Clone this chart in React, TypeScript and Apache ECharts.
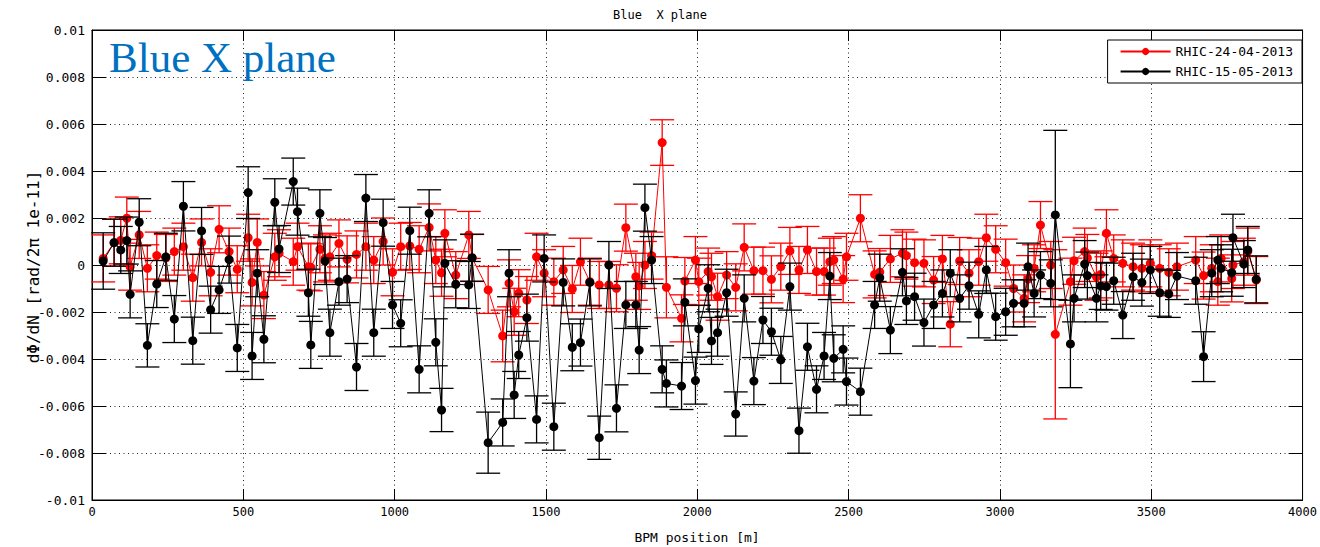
import React, { useEffect, useRef } from "react";
import * as echarts from "echarts";

// BPM positions [m]
const positions = [
  37, 73, 95, 115, 126, 156, 183, 214, 244, 272, 302, 333, 362, 392, 420, 453, 480,
  516, 529, 546, 568, 604, 618, 665, 679, 715, 723, 753, 770, 786, 816, 843, 874, 905, 931, 962, 993,
  1020, 1050, 1081, 1114, 1136, 1155, 1166, 1202, 1245, 1256, 1309, 1357, 1378, 1395, 1410, 1437, 1469, 1494,
  1526, 1557, 1587, 1614, 1645, 1676, 1708, 1733, 1764, 1797, 1808, 1827, 1849, 1884, 1898, 1948, 1959, 1994, 2005,
  2036, 2047, 2067, 2097, 2127, 2155, 2187, 2217, 2245, 2276, 2306, 2336, 2364, 2394, 2419, 2438, 2451, 2482, 2493, 2539,
  2586, 2603, 2638, 2678, 2691, 2718, 2749, 2781, 2810, 2836, 2867, 2898, 2930, 2955, 2986, 3019, 3045,
  3080, 3093, 3113, 3134, 3168, 3183, 3233, 3245, 3280, 3289, 3319, 3333, 3352, 3376, 3406, 3440, 3469, 3497, 3528, 3558,
  3585, 3647, 3673, 3700, 3720, 3731, 3766, 3770, 3806, 3819, 3847,
];

// dPhi/dN values, units of 1e-3
const redValues = [
  0.28, 0.95, 1.05, 1.99, -0.07, 1.28, -0.14, 0.40, 0.30, 0.57, 0.78, -0.54, 0.96, -0.31, 1.52, 0.57, -0.18,
  1.16, -0.74, 0.96, -1.28, 0.35, 0.50, 0.14, 0.78, -0.07, -0.10, 0.67, 0.28, 0.35, 0.92, 0.24, 0.45, 0.78, 0.21, 1.00, -0.31,
  0.78, 0.81, 0.67, 1.60, 0.21, -0.33, 1.35, -0.43, 1.28, 0.30, -1.06, -3.02, -0.78, -1.99, -1.20, -1.49, 0.35, -0.35,
  -0.71, -0.21, -1.02, 0.14, -0.71, -0.85, -0.85, -0.99, 1.59, -0.50, -0.89, 0.00, 0.40, 5.21, -0.95, -2.27, -0.68, 0.21, -0.71,
  -0.28, -0.50, -1.35, -0.43, -0.95, 0.75, -0.24, -0.24, -0.61, -0.07, 0.60, -0.21, 0.64, -0.28, -0.28, 0.14, 0.21, -0.60, 0.35, 1.99,
  -0.40, -0.30, 0.26, 0.50, 0.40, 0.10, 0.07, -0.64, 0.26, -2.52, 0.17, -0.35, 0.14, 1.16, 0.67, 0.10, -1.00,
  -1.42, -0.60, -0.14, 1.70, 0.00, -2.95, -0.71, 0.18, 0.57, 0.30, -0.50, -0.40, 1.35, 0.28, 0.07, -0.07, -0.14, 0.07, -0.14, -0.31,
  -0.07, 0.21, -0.45, -0.14, -0.71, 0.28, -0.57, 0.00, 0.14, 0.57, -0.64,
];

const blackValues = [
  0.17, 0.95, 0.64, 1.04, -1.25, 1.82, -3.42, -0.81, 0.35, -2.30, 2.50, -3.22, 1.45, -1.90, -1.06, 0.23, -3.53,
  3.08, -3.87, -0.35, -3.16, 2.67, 0.68, 3.55, 2.27, -1.18, -3.40, 2.20, 0.17, -2.88, -0.71, -0.60, -4.34, 2.85, -2.88, 1.80, -1.70,
  -2.48, 1.46, -4.44, 2.20, -3.29, -6.17, 0.07, -0.82, -0.85, 0.31, -7.56, -6.70, -0.35, -5.53, -3.83, -2.24, -6.57, 0.28,
  -6.88, -0.74, -3.50, -3.30, -0.74, -7.35, 0.00, -6.10, -1.70, -1.70, -3.62, 2.44, 0.21, -4.44, -5.04, -5.15, -1.59, -4.92, -2.72,
  -0.99, -3.23, -2.88, -1.18, -6.34, -1.42, -4.94, -2.34, -2.84, -4.04, -0.92, -7.05, -3.48, -5.29, -3.87, -0.47, -3.97, -3.59, -4.96, -5.39,
  -1.70, -0.54, -2.77, -0.31, -1.53, -1.35, -2.45, -1.70, -1.21, -0.35, -1.42, -0.88, -2.10, -0.21, -2.20, -1.99, -1.63,
  -1.63, -0.07, -1.21, -0.43, -0.78, 2.13, -3.36, -1.42, 0.04, -0.45, -1.42, -0.89, -0.92, -0.67, -2.13, -0.50, -0.75, -0.21, -1.18, -1.23,
  -0.47, -0.67, -3.90, -0.35, 0.21, -0.14, -0.33, 1.16, 0.04, 0.64, -0.61,
];

// error bar half-heights, units of 1e-3
const redErrors = [
  1.0, 1.0, 1.0, 0.9, 1.0, 1.0, 1.0, 1.0, 1.0, 1.0, 1.0, 1.0, 1.0, 1.0, 1.0, 1.0, 1.0,
  1.0, 1.0, 1.0, 1.0, 1.0, 1.0, 1.0, 1.0, 1.0, 1.0, 1.0, 1.0, 1.0, 1.0, 1.0, 1.0, 1.0, 1.0, 1.0, 1.0,
  1.0, 1.0, 1.0, 1.0, 1.0, 1.0, 1.0, 1.0, 1.0, 1.0, 1.0, 1.1, 1.0, 1.0, 1.0, 1.0, 1.0, 1.0,
  1.0, 1.0, 1.0, 1.0, 1.0, 1.0, 1.0, 1.0, 1.0, 1.0, 1.0, 1.0, 1.0, 0.97, 1.3, 1.0, 1.0, 1.0, 1.0,
  1.0, 1.0, 1.0, 1.0, 1.0, 1.0, 1.0, 1.0, 1.0, 1.0, 1.0, 1.0, 1.0, 1.0, 1.0, 1.0, 1.0, 1.0, 1.0, 1.0,
  1.0, 1.0, 1.0, 1.0, 1.0, 1.0, 1.0, 1.0, 1.0, 0.96, 1.0, 1.0, 1.0, 1.0, 1.0, 1.0, 1.0,
  1.0, 1.0, 1.0, 1.0, 1.0, 3.6, 1.0, 1.0, 1.0, 1.0, 1.0, 1.0, 1.0, 1.0, 1.0, 1.0, 1.0, 1.0, 1.0, 1.0,
  1.0, 1.0, 1.0, 1.0, 1.0, 1.0, 1.0, 1.0, 1.0, 1.0, 1.0,
];

const blackErrors = [
  1.2, 1.0, 1.0, 1.0, 1.0, 1.0, 0.92, 1.0, 1.0, 1.0, 1.05, 1.0, 1.0, 1.0, 1.0, 1.0, 1.0,
  1.1, 1.0, 1.0, 1.0, 1.0, 1.0, 1.0, 1.0, 1.0, 1.0, 1.0, 1.0, 1.0, 1.0, 1.0, 1.0, 1.0, 1.0, 1.0, 1.0,
  1.0, 1.0, 1.0, 1.0, 1.0, 0.92, 1.0, 1.0, 1.0, 1.0, 1.3, 1.0, 1.0, 1.0, 1.0, 1.0, 1.0, 1.0,
  1.0, 1.0, 1.0, 1.0, 1.0, 0.92, 1.0, 1.0, 1.0, 1.0, 1.0, 1.0, 1.0, 1.0, 1.0, 1.0, 1.0, 1.0, 1.0,
  1.0, 1.0, 1.0, 1.0, 0.94, 1.0, 1.0, 1.0, 1.0, 1.0, 1.0, 0.96, 1.0, 1.0, 1.0, 1.0, 1.0, 1.0, 1.0, 1.0,
  1.0, 1.0, 1.0, 1.0, 1.0, 1.0, 1.0, 1.0, 1.0, 1.0, 1.0, 1.0, 1.0, 1.0, 1.0, 1.0, 1.0,
  1.0, 1.0, 1.0, 1.0, 1.0, 3.6, 1.86, 1.0, 1.0, 1.0, 1.0, 1.0, 1.0, 1.0, 1.0, 1.0, 1.0, 1.0, 1.0, 1.0,
  1.0, 1.0, 1.06, 1.0, 1.0, 1.0, 1.0, 1.0, 1.0, 1.0, 1.0,
];

const seriesNames = ["RHIC-24-04-2013", "RHIC-15-05-2013"];
const xTicks = [0, 500, 1000, 1500, 2000, 2500, 3000, 3500, 4000];
const yTicks = [-0.01, -0.008, -0.006, -0.004, -0.002, 0, 0.002, 0.004, 0.006, 0.008, 0.01];

const MONO = "'DejaVu Sans Mono', 'Liberation Mono', monospace";

function errData(vals: number[], errs: number[]) {
  return positions.map((p, i) => [p, (vals[i] - errs[i]) * 1e-3, (vals[i] + errs[i]) * 1e-3]);
}
function ptData(vals: number[]) {
  return positions.map((p, i) => [p, vals[i] * 1e-3]);
}

function makeErrRender(color: string) {
  return (params: any, api: any) => {
    const x = api.value(0);
    const lo = api.coord([x, api.value(1)]);
    const hi = api.coord([x, api.value(2)]);
    const hw = 12;
    const style = { stroke: color, lineWidth: 1.3 };
    return {
      type: "group",
      children: [
        { type: "line", shape: { x1: hi[0], y1: hi[1], x2: lo[0], y2: lo[1] }, style },
        { type: "line", shape: { x1: hi[0] - hw, y1: hi[1], x2: hi[0] + hw, y2: hi[1] }, style },
        { type: "line", shape: { x1: lo[0] - hw, y1: lo[1], x2: lo[0] + hw, y2: lo[1] }, style },
      ],
    };
  };
}

export default function App() {
  const ref = useRef<HTMLDivElement>(null);
  useEffect(() => {
    if (!ref.current) return;
    const chart = echarts.init(ref.current, undefined, { renderer: "svg" });
    const xMin = xTicks[0];
    const xMax = xTicks[xTicks.length - 1];
    const yMin = yTicks[0];
    const yMax = yTicks[yTicks.length - 1];
    const gridLine = { show: true, lineStyle: { color: "#222", type: [1, 3.5], width: 1 } };
    const fmtY = (v: number) => String(parseFloat(v.toFixed(4)));
    const fmtX = (v: number) => String(v);
    chart.setOption({
      animation: false,
      backgroundColor: "#fff",
      grid: { left: 92, top: 30, right: 16, bottom: 47, show: true, borderColor: "#000", borderWidth: 1 },
      xAxis: [
        {
          type: "value", min: xMin, max: xMax, interval: 500, position: "bottom",
          axisLine: { show: true, onZero: false, lineStyle: { color: "#000", width: 1 } },
          axisTick: { show: true, inside: true, length: 11, lineStyle: { color: "#000" } },
          axisLabel: { color: "#000", fontFamily: MONO, fontSize: 12, margin: 6, formatter: fmtX },
          splitLine: gridLine,
        },
        {
          type: "value", min: xMin, max: xMax, interval: 500, position: "top",
          axisLine: { show: true, onZero: false, lineStyle: { color: "#000", width: 1 } },
          axisTick: { show: true, inside: true, length: 11, lineStyle: { color: "#000" } },
          axisLabel: { show: false }, splitLine: { show: false },
        },
      ],
      yAxis: [
        {
          type: "value", min: yMin, max: yMax, interval: 0.002, position: "left",
          axisLine: { show: true, onZero: false, lineStyle: { color: "#000", width: 1 } },
          axisTick: { show: true, inside: true, length: 14, lineStyle: { color: "#000" } },
          axisLabel: { color: "#000", fontFamily: MONO, fontSize: 13, margin: 7, formatter: fmtY },
          splitLine: gridLine,
        },
        {
          type: "value", min: yMin, max: yMax, interval: 0.002, position: "right",
          axisLine: { show: true, onZero: false, lineStyle: { color: "#000", width: 1 } },
          axisTick: { show: true, inside: true, length: 14, lineStyle: { color: "#000" } },
          axisLabel: { show: false }, splitLine: { show: false },
        },
      ],
      legend: {
        data: seriesNames,
        orient: "vertical",
        right: 18,
        top: 40,
        backgroundColor: "#fff",
        borderColor: "#000",
        borderWidth: 1,
        borderRadius: 0,
        padding: [5, 9, 5, 12],
        itemGap: 7,
        itemWidth: 50,
        itemHeight: 9,
        textStyle: { fontFamily: MONO, fontSize: 13, color: "#000" },
      },
      graphic: [
        {
          type: "text", left: "center", top: 9,
          style: { text: "Blue  X plane", font: `12px ${MONO}`, fill: "#000" },
        },
        {
          type: "text", x: 697, y: 537,
          style: { text: "BPM position [m]", font: `13px ${MONO}`, fill: "#000", align: "center", verticalAlign: "middle" },
        },
        {
          type: "text", x: 33, y: 267, rotation: Math.PI / 2,
          style: { text: "dΦ/dN [rad/2π 1e-11]", font: `16px ${MONO}`, fill: "#000", align: "center", verticalAlign: "middle" },
        },
        {
          type: "text", x: 109, y: 36, z: 200,
          style: { text: "Blue X plane", font: "43px 'Liberation Serif', 'Times New Roman', serif", fill: "#0070C0" },
        },
      ],
      series: [
        {
          name: seriesNames[0] + " err", type: "custom", renderItem: makeErrRender("#ff0000"),
          data: errData(redValues, redErrors), encode: { x: 0, y: [1, 2] }, z: 2, silent: true,
        },
        {
          name: seriesNames[0], type: "line", data: ptData(redValues), z: 3,
          symbol: "circle", symbolSize: 9, showAllSymbol: true,
          itemStyle: { color: "#ff0000" }, lineStyle: { color: "#ff0000", width: 1 },
        },
        {
          name: seriesNames[1] + " err", type: "custom", renderItem: makeErrRender("#000000"),
          data: errData(blackValues, blackErrors), encode: { x: 0, y: [1, 2] }, z: 4, silent: true,
        },
        {
          name: seriesNames[1], type: "line", data: ptData(blackValues), z: 5,
          symbol: "circle", symbolSize: 9, showAllSymbol: true,
          itemStyle: { color: "#000000" }, lineStyle: { color: "#000000", width: 1 },
        },
      ],
    });
    return () => chart.dispose();
  }, []);
  return (
    <div
      ref={ref}
      style={{ position: "fixed", left: 0, top: 0, width: 1320, height: 547, background: "#fff" }}
    />
  );
}
